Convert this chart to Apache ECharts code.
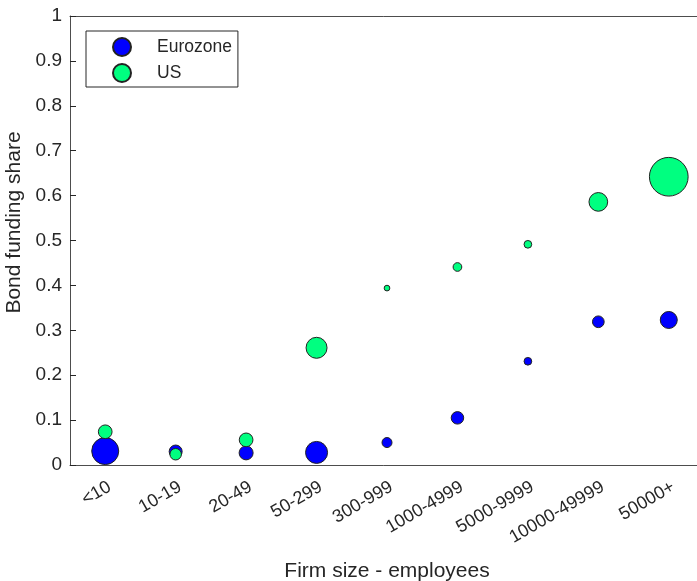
<!DOCTYPE html>
<html>
<head>
<meta charset="utf-8">
<script src="https://cdn.jsdelivr.net/npm/echarts@6/dist/echarts.min.js"></script>
<style>html,body{margin:0;padding:0;background:#fff;}#c{width:697px;height:581px;}</style>
</head>
<body>
<div id="c"></div>
<script>
const categories = ['<10','10-19','20-49','50-299','300-999','1000-4999','5000-9999','10000-49999','50000+'];
const euShare = [0.031, 0.030, 0.027, 0.028, 0.050, 0.105, 0.231, 0.319, 0.323];
const usShare = [0.074, 0.024, 0.056, 0.261, 0.394, 0.441, 0.4915, 0.586, 0.642];
// bubble sizes (marker diameters)
const euBubble = [28, 14, 15, 23, 11, 13.5, 8.7, 12.7, 18];
const usBubble = [14.7, 12.5, 14.7, 22, 6.7, 9.7, 8.7, 19.7, 39.7];
const yTicks = [0, 0.1, 0.2, 0.3, 0.4, 0.5, 0.6, 0.7, 0.8, 0.9, 1];

const FONT = 'Liberation Sans';
const TXT = '#262626';
const AX = '#4d4d4d';

function pts(vals, sizes) {
  return vals.map((v, i) => ({ value: [categories[i], v], symbolSize: Math.max(sizes[i] - 1, 2) }));
}

const chart = echarts.init(document.getElementById('c'), null, { renderer: 'canvas' });
chart.setOption({
  animation: false,
  backgroundColor: '#fff',
  textStyle: { fontFamily: FONT },
  grid: { left: 70, top: 16, width: 634, bottom: 116, containLabel: false, outerBoundsMode: 'none' },
  legend: {
    left: 86, top: 31, orient: 'vertical',
    data: ['Eurozone', 'US'],
    itemWidth: 18, itemHeight: 18, itemGap: 6,
    padding: [6, 6, 4, 26],
    borderColor: TXT, borderWidth: 1, borderRadius: 0,
    backgroundColor: '#fff',
    icon: 'circle',
    textStyle: { fontFamily: FONT, fontSize: 17.5, color: TXT, lineHeight: 18, padding: [0, 0, 0, 21] }
  },
  xAxis: [{
    type: 'category', data: categories, position: 'bottom', boundaryGap: true,
    name: 'Firm size - employees', nameLocation: 'middle', nameGap: 96,
    nameTextStyle: { fontFamily: FONT, fontSize: 21, color: TXT },
    axisLine: { onZero: false, lineStyle: { color: AX, width: 1 } },
    axisTick: { inside: true, alignWithLabel: true, length: 6, lineStyle: { color: TXT } },
    axisLabel: { rotate: 30, fontFamily: FONT, fontSize: 18, color: TXT, margin: 13, interval: 0, verticalAlign: 'top' },
    splitLine: { show: false }
  }, {
    type: 'category', data: categories, position: 'top', boundaryGap: true,
    axisLine: { onZero: false, lineStyle: { color: AX, width: 1 } },
    axisTick: { inside: true, alignWithLabel: true, length: 6, lineStyle: { color: TXT } },
    axisLabel: { show: false }, splitLine: { show: false }
  }],
  yAxis: [{
    type: 'value', min: 0, max: 1, interval: 0.1, position: 'left',
    name: 'Bond funding share', nameLocation: 'middle', nameGap: 37,
    nameTextStyle: { fontFamily: FONT, fontSize: 21, color: TXT, padding: [0, 0, 0, 36] },
    axisLine: { show: true, onZero: false, lineStyle: { color: AX, width: 1 } },
    axisTick: { show: true, inside: true, length: 6, lineStyle: { color: TXT } },
    axisLabel: { fontFamily: FONT, fontSize: 19, color: TXT, margin: 8,
      formatter: v => { const t = yTicks.find(x => Math.abs(x - v) < 1e-9); return String(t !== undefined ? t : v); } },
    splitLine: { show: false }
  }, {
    type: 'value', min: 0, max: 1, interval: 0.1, position: 'right',
    axisLine: { show: true, onZero: false, lineStyle: { color: AX, width: 1 } },
    axisTick: { show: true, inside: true, length: 6, lineStyle: { color: TXT } },
    axisLabel: { show: false }, splitLine: { show: false }
  }],
  series: [{
    name: 'Eurozone', type: 'scatter', xAxisIndex: 0, yAxisIndex: 0,
    data: pts(euShare, euBubble),
    itemStyle: { color: '#0000ff', borderColor: '#222', borderWidth: 1, opacity: 1 },
    z: 2
  }, {
    name: 'US', type: 'scatter', xAxisIndex: 0, yAxisIndex: 0,
    data: pts(usShare, usBubble),
    itemStyle: { color: '#00ff80', borderColor: '#222', borderWidth: 1, opacity: 1 },
    z: 3
  }]
});
</script>
</body>
</html>
